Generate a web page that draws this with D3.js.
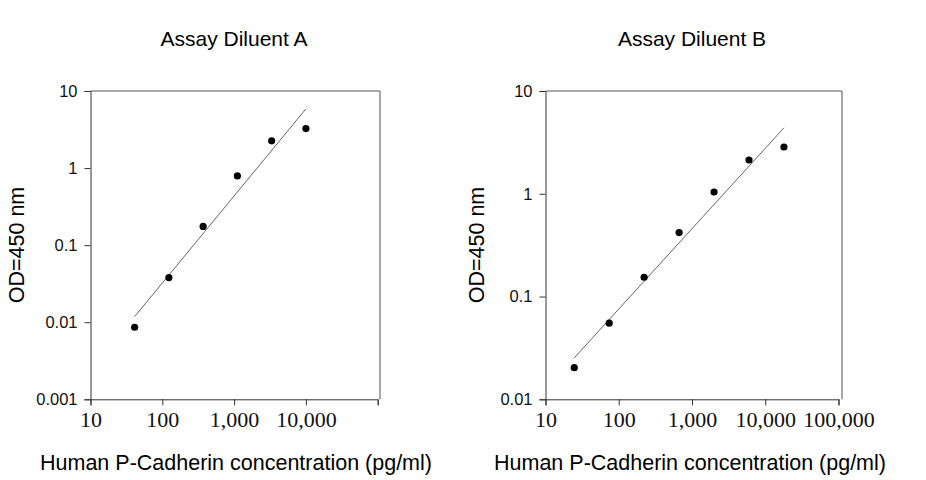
<!DOCTYPE html>
<html>
<head>
<meta charset="utf-8">
<script src="https://cdn.jsdelivr.net/npm/d3@7"></script>
<style>
  body { margin: 0; background: #fff; }
  .tick line, .domain { stroke: #333; }
</style>
</head>
<body>
<svg width="926" height="480"></svg>
<script>
// ---- data ----
const concA = [41.15, 123.5, 370.4, 1111, 3333, 10000];
const odA   = [0.0086, 0.038, 0.175, 0.79, 2.26, 3.25];
const concB = [24.69, 74.07, 222.2, 666.7, 2000, 6000, 18000];
const odB   = [0.0203, 0.055, 0.154, 0.419, 1.04, 2.13, 2.85];

const xTicks = [10, 100, 1000, 10000, 100000];
const xTickLabelsA = ["10", "100", "1,000", "10,000", ""];
const xTickLabelsB = ["10", "100", "1,000", "10,000", "100,000"];
const yTicksA = [0.001, 0.01, 0.1, 1, 10];
const yTickLabelsA = ["0.001", "0.01", "0.1", "1", "10"];
const yTicksB = [0.01, 0.1, 1, 10];
const yTickLabelsB = ["0.01", "0.1", "1", "10"];

const svg = d3.select('svg');

// least squares in log-log space, drawn over the data range
function logFit(xs, ys) {
  const lx = xs.map(Math.log10), ly = ys.map(Math.log10);
  const mx = d3.mean(lx), my = d3.mean(ly);
  const slope = d3.sum(lx, (v, i) => (v - mx) * (ly[i] - my)) / d3.sum(lx, v => (v - mx) * (v - mx));
  const f = x => Math.pow(10, my + slope * (Math.log10(x) - mx));
  const x0 = d3.min(xs), x1 = d3.max(xs);
  return [[x0, f(x0)], [x1, f(x1)]];
}

function panel(opt) {
  const x = d3.scaleLog().domain([10, 100000]).range([opt.left, opt.right]);
  const y = d3.scaleLog().domain([opt.yTicks[0], 10]).range([399.3, 91]);
  const g = svg.append('g');

  // frame top and right
  g.append('line')
    .attr('x1', opt.left).attr('x2', opt.frameRight)
    .attr('y1', 91).attr('y2', 91)
    .attr('stroke', '#555').attr('stroke-width', 1);
  g.append('line')
    .attr('x1', opt.frameRight).attr('x2', opt.frameRight)
    .attr('y1', 91).attr('y2', 399.3)
    .attr('stroke', '#888').attr('stroke-width', 1.5);

  const xa = g.append('g')
    .attr('transform', 'translate(0,399.3)')
    .call(d3.axisBottom(x).tickValues(xTicks).tickSizeOuter(0).tickSize(6).tickPadding(6)
      .tickFormat((d, i) => opt.xLabels[i]));
  xa.selectAll('text')
    .style('font-family', '"Liberation Serif", "Times New Roman", serif')
    .style('font-size', '22px').attr('fill', '#111');

  const ya = g.append('g')
    .attr('transform', 'translate(' + opt.left + ',0)')
    .call(d3.axisLeft(y).tickValues(opt.yTicks).tickSizeOuter(0).tickSize(6).tickPadding(7)
      .tickFormat((d, i) => opt.yLabels[i]));
  ya.selectAll('text')
    .style('font-family', '"Liberation Sans", Arial, sans-serif')
    .style('font-size', '16.5px').attr('fill', '#111');

  // fitted line
  const fit = logFit(opt.conc, opt.od);
  g.append('path')
    .datum(fit)
    .attr('d', d3.line().x(d => x(d[0])).y(d => y(d[1])))
    .attr('fill', 'none').attr('stroke', '#666').attr('stroke-width', 1);

  // points
  g.selectAll('.pt')
    .data(opt.conc.map((c, i) => [c, opt.od[i]]))
    .enter()
    .append('circle')
    .classed('pt', true)
    .attr('cx', d => x(d[0]))
    .attr('cy', d => y(d[1]))
    .attr('r', 3.6)
    .attr('fill', '#000');

  const sans = '"Liberation Sans", Arial, sans-serif';
  g.append('text')
    .attr('x', opt.titleX).attr('y', 46)
    .attr('text-anchor', 'middle')
    .style('font-family', sans).style('font-size', '21px')
    .text(opt.title);
  g.append('text')
    .attr('x', opt.xTitleX).attr('y', 470)
    .attr('text-anchor', 'middle')
    .style('font-family', sans).style('font-size', '21.5px')
    .text('Human P-Cadherin concentration (pg/ml)');
  g.append('text')
    .attr('transform', 'translate(' + opt.yTitleX + ',245) rotate(-90)')
    .attr('text-anchor', 'middle')
    .style('font-family', sans).style('font-size', '21.5px')
    .text('OD=450 nm');
}

panel({
  left: 90.5, right: 377.7, frameRight: 380,
  conc: concA, od: odA,
  yTicks: yTicksA, yLabels: yTickLabelsA, xLabels: xTickLabelsA,
  title: 'Assay Diluent A', titleX: 234, xTitleX: 236, yTitleX: 24
});
panel({
  left: 545.5, right: 838.5, frameRight: 842,
  conc: concB, od: odB,
  yTicks: yTicksB, yLabels: yTickLabelsB, xLabels: xTickLabelsB,
  title: 'Assay Diluent B', titleX: 692, xTitleX: 690, yTitleX: 484
});
</script>
</body>
</html>
